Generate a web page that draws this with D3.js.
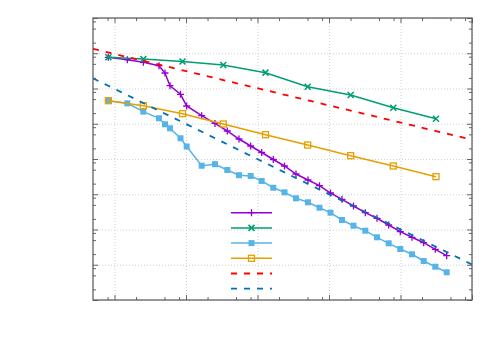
<!DOCTYPE html>
<html>
<head>
<meta charset="UTF-8">
<script src="https://d3js.org/d3.v7.min.js"></script>
<style>
  body { margin: 0; background: #fff; }
  .grid line { stroke: #d0d0d0; stroke-dasharray: 1,2; }
  .grid path { display: none; }
  .ax path { display: none; }
  .ax line { stroke: #666; }
</style>
</head>
<body>
<div id="chart"></div>
<script>
// x positions shared by the fine sweeps (purple, light blue)
const nFine = [8.18, 15.1, 25.3, 41.9, 50.8, 59.7, 83.7, 102.2, 165.7, 254.2, 377.8, 550.8, 802.7,
  1144, 1663, 2384, 3452, 5082, 7361, 10490, 15190, 22000, 32170, 46880, 68330, 99290,
  144700, 211000, 306500, 442500];
const errPurple = [0.0768, 0.0656, 0.0554, 0.0443, 0.0275, 0.0120, 0.00685, 0.00319, 0.00169, 0.00102,
  6.23e-4, 3.69e-4, 2.34e-4, 1.53e-4, 9.67e-5, 6.33e-5, 3.75e-5, 2.54e-5, 1.75e-5, 1.085e-5,
  7.19e-6, 4.64e-6, 3.00e-6, 2.08e-6, 1.34e-6, 8.66e-7, 6.01e-7, 4.22e-7, 2.74e-7, 1.81e-7];
const errLightBlue = [4.51e-3, 3.80e-3, 2.20e-3, 1.43e-3, 9.65e-4, 7.43e-4, 3.87e-4, 2.26e-4, 6.45e-5, 7.12e-5,
  4.87e-5, 3.47e-5, 3.29e-5, 2.38e-5, 1.53e-5, 1.136e-5, 7.68e-6, 5.91e-6, 4.15e-6, 3.00e-6,
  1.86e-6, 1.28e-6, 9.25e-7, 6.01e-7, 4.06e-7, 2.80e-7, 1.98e-7, 1.28e-7, 8.80e-8, 6.11e-8];
// coarse sweeps (green, orange)
const nCoarse = [8.2, 25.3, 89.3, 332, 1293, 5033, 20100, 79260, 313500];
const errGreen = [0.0768, 0.0687, 0.0583, 0.0464, 0.0281, 0.01125, 6.54e-3, 2.85e-3, 1.39e-3];
const errOrange = [4.51e-3, 3.25e-3, 1.93e-3, 9.84e-4, 4.89e-4, 2.49e-4, 1.24e-4, 6.33e-5, 3.15e-5];
// reference slopes
const nRef = [5, 1e6];
const refHalf = [0.1337, 3.53e-4];
const refOne = [0.01948, 1.016e-7];

const xMajor = [10, 100, 1e3, 1e4, 1e5, 1e6];
const yMajor = [1e-8, 1e-7, 1e-6, 1e-5, 1e-4, 1e-3, 1e-2, 1e-1, 1];
const minorMult = [2, 5, 8];

const W = 500, H = 350;
const margin = { top: 18, right: 28, bottom: 50, left: 93 };
const width = W - margin.left - margin.right;
const height = H - margin.top - margin.bottom;

const svg = d3.select("#chart").append("svg")
  .attr("width", W).attr("height", H)
  .append("g")
  .attr("transform", `translate(${margin.left},${margin.top})`);

const x = d3.scaleLog().domain([5, 1e6]).range([0, width]);
const y = d3.scaleLog().domain([1e-8, 1]).range([height, 0]);

const xMinor = [], yMinor = [];
for (let k = 0; k < 6; k++) minorMult.forEach(m => { const v = m * 10 ** k; if (v > 5 && v < 1e6) xMinor.push(v); });
for (let k = -8; k < 0; k++) minorMult.forEach(m => yMinor.push(m * 10 ** k));

// grid
svg.append("g").attr("class", "grid")
  .attr("transform", `translate(0,${height})`)
  .call(d3.axisBottom(x).tickValues(xMajor).tickSize(-height).tickFormat(""));
svg.append("g").attr("class", "grid")
  .call(d3.axisLeft(y).tickValues(yMajor).tickSize(-width).tickFormat(""));

// ticks on all four sides, pointing inward
function ticks(axisFn, scale, vals, size, transform) {
  svg.append("g").attr("class", "ax").attr("transform", transform)
    .call(axisFn(scale).tickValues(vals).tickSize(size).tickFormat(""));
}
ticks(d3.axisBottom, x, xMajor, -5, `translate(0,${height})`);
ticks(d3.axisBottom, x, xMinor, -3, `translate(0,${height})`);
ticks(d3.axisTop, x, xMajor, -5, "translate(0,0)");
ticks(d3.axisTop, x, xMinor, -3, "translate(0,0)");
ticks(d3.axisLeft, y, yMajor, -5, "translate(0,0)");
ticks(d3.axisLeft, y, yMinor, -3, "translate(0,0)");
ticks(d3.axisRight, y, yMajor, -5, `translate(${width},0)`);
ticks(d3.axisRight, y, yMinor, -3, `translate(${width},0)`);

svg.append("defs").append("clipPath").attr("id", "clip")
  .append("rect").attr("width", width).attr("height", height);

const series = [
  { xs: nFine, ys: errPurple, color: "#9400d3", mark: "plus" },
  { xs: nCoarse, ys: errGreen, color: "#009e73", mark: "cross" },
  { xs: nFine, ys: errLightBlue, color: "#56b4e9", mark: "fsquare" },
  { xs: nCoarse, ys: errOrange, color: "#e69f00", mark: "osquare" },
  { xs: nRef, ys: refHalf, color: "#ff0000", dash: "6,7" },
  { xs: nRef, ys: refOne, color: "#0072b2", dash: "6,7" }
];

const line = d3.line().x(d => x(d[0])).y(d => y(d[1]));

function drawMark(g, type, color, cx, cy) {
  if (type === "plus") {
    g.append("path").attr("d", `M${cx - 3.5},${cy}H${cx + 3.5}M${cx},${cy - 3.5}V${cy + 3.5}`)
      .attr("stroke", color).attr("stroke-width", 1.3);
  } else if (type === "cross") {
    g.append("path").attr("d", `M${cx - 3},${cy - 3}L${cx + 3},${cy + 3}M${cx - 3},${cy + 3}L${cx + 3},${cy - 3}`)
      .attr("stroke", color).attr("stroke-width", 1.6);
  } else if (type === "fsquare") {
    g.append("rect").attr("x", cx - 3).attr("y", cy - 3).attr("width", 6).attr("height", 6)
      .attr("fill", color);
  } else if (type === "osquare") {
    g.append("rect").attr("x", cx - 3).attr("y", cy - 3).attr("width", 6).attr("height", 6)
      .attr("fill", "none").attr("stroke", color).attr("stroke-width", 1.3);
  }
}

series.forEach(s => {
  const pts = s.xs.map((v, i) => [v, s.ys[i]]);
  const g = svg.append("g").attr("clip-path", "url(#clip)");
  g.append("path").datum(pts)
    .attr("d", line)
    .attr("fill", "none")
    .attr("stroke", s.color)
    .attr("stroke-width", s.dash ? 1.8 : 1.5)
    .attr("stroke-dasharray", s.dash || null);
  if (s.mark) pts.forEach(p => drawMark(g, s.mark, s.color, x(p[0]), y(p[1])));
});

// border
svg.append("rect").attr("width", width).attr("height", height)
  .attr("fill", "none").attr("stroke", "#555").attr("stroke-width", 1.2);

// legend (samples only)
const legend = svg.append("g").attr("transform", `translate(${231 - margin.left},${212.7 - margin.top})`);
series.forEach((s, i) => {
  const ly = i * 15.2;
  legend.append("line").attr("x1", 0).attr("x2", 41).attr("y1", ly).attr("y2", ly)
    .attr("stroke", s.color).attr("stroke-width", s.dash ? 1.8 : 1.5)
    .attr("stroke-dasharray", s.dash || null);
  if (s.mark) drawMark(legend, s.mark, s.color, 20.5, ly);
});
</script>
</body>
</html>
